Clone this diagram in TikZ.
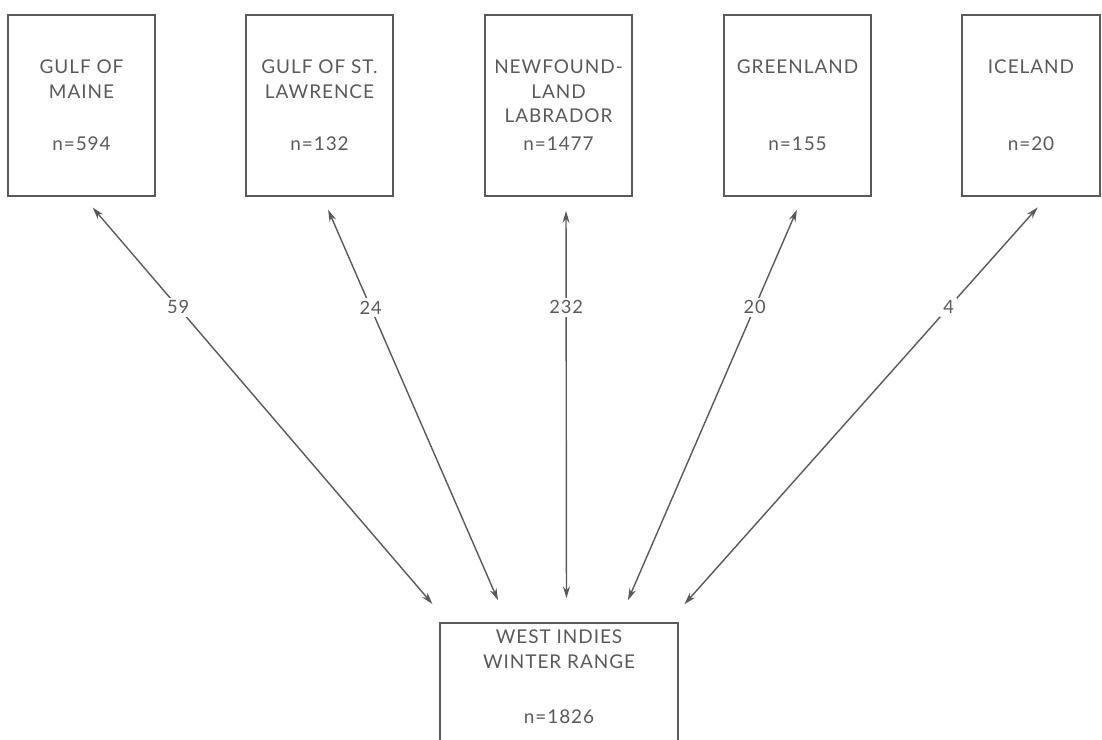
\documentclass[tikz,border=0pt]{standalone}
\usepackage{fontspec}
\setmainfont[LetterSpace=5]{Lato}
\usetikzlibrary{positioning,calc,arrows.meta}
\definecolor{ink}{RGB}{90,90,90}

\begin{document}
\begin{tikzpicture}[x=0.025cm,y=-0.025cm,
    region/.style={draw=ink,line width=1.2pt,minimum width=3.675cm,minimum height=4.525cm,inner sep=0pt},
    title/.style={anchor=north,align=center,text=ink,font=\fontsize{13.5}{17.5}\selectfont},
    count/.style={text=ink,font=\fontsize{13.5}{15}\selectfont},
    link/.style={{Stealth[length=8.5pt,width=5pt]}-{Stealth[length=8.5pt,width=5pt]},draw=ink,line width=1pt,shorten <=10pt,shorten >=17pt},
    flow/.style={fill=white,text=ink,inner sep=2pt,pos=0.26,font=\fontsize{13}{15}\selectfont}]
    \useasboundingbox (0,0) rectangle (1102,739);
    \clip (0,0) rectangle (1102,739);

    % breeding areas
    \node[region] (gm) at (81.5,105.5) {};
    \node[region] (gsl) at (319.5,105.5) {};
    \node[region] (nl) at (558.5,105.5) {};
    \node[region] (gr) at (797.5,105.5) {};
    \node[region,minimum width=3.45cm] (ic) at (1031,105.5) {};
    \node[title] (gmname) at (81.5,55) {GULF OF\\MAINE};
    \node[title] (gslname) at (319.5,55) {GULF OF ST.\\LAWRENCE};
    \node[title] (nlname) at (558.5,55) {NEWFOUND-\\LAND\\LABRADOR};
    \node[title] (grname) at (797.5,55) {GREENLAND};
    \node[title] (icname) at (1031,55) {ICELAND};
    \node[count] (gmn) at (81.5,144) {n=594};
    \node[count] (gsln) at (319.5,144) {n=132};
    \node[count] (nln) at (558.5,144) {n=1477};
    \node[count] (grn) at (797.5,144) {n=155};
    \node[count] (icn) at (1031,144) {n=20};

    % winter range
    \node[region,minimum width=5.95cm,minimum height=4cm] (wi) at (559,703) {};
    \node[title] (winame) at (559,625) {WEST INDIES\\WINTER RANGE};
    \node[count] (win) at (559,717) {n=1826};

    \draw[link] ($(gm.south)+(2,0)$) -- node[flow] {59} ($(wi.north)+(-111,0)$);
    \draw[link] ($(gsl.south)+(3,0)$) -- node[flow] {24} ($(wi.north)+(-51.5,0)$);
    \draw[link] ($(nl.south)+(7.5,0)$) -- node[flow] {232} ($(wi.north)+(7.5,0)$);
    \draw[link] ($(gr.south)+(5,0)$) -- node[flow] {20} ($(wi.north)+(59.5,0)$);
    \draw[link] ($(ic.south)+(16,0)$) -- node[flow] {4} ($(wi.north)+(109.5,0)$);
\end{tikzpicture}
\end{document}
